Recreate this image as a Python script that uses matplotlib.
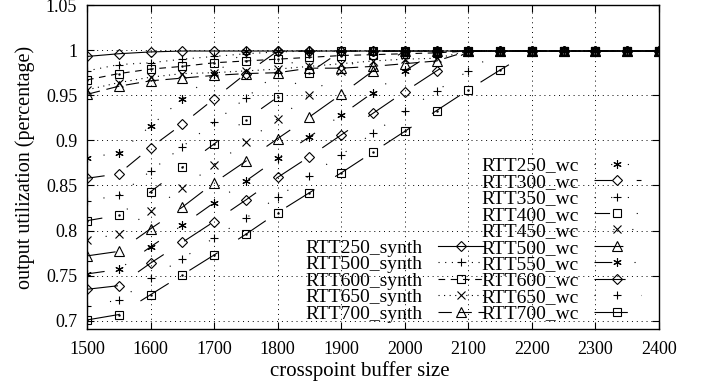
import matplotlib
matplotlib.use('Agg')
from matplotlib import pyplot as plt
from matplotlib.ticker import FuncFormatter

plt.rcParams['font.family'] = ['Liberation Serif', 'DejaVu Serif']
plt.rcParams['font.size'] = 13

buffer_size = [1500, 1550, 1600, 1650, 1700, 1750, 1800, 1850, 1900, 1950,
               2000, 2050, 2100, 2150, 2200, 2250, 2300, 2350, 2400]

# worst case series
rtt250_wc = [0.881, 0.886, 0.916, 0.946, 0.974, 0.999, 0.999, 0.999, 0.999, 0.999,
             0.999, 0.999, 0.999, 0.999, 0.999, 0.999, 0.999, 0.999, 0.999]
rtt300_wc = [0.858, 0.863, 0.892, 0.918, 0.946, 0.974, 0.999, 0.999, 0.999, 0.999,
             0.999, 0.999, 0.999, 0.999, 0.999, 0.999, 0.999, 0.999, 0.999]
rtt350_wc = [0.833, 0.839, 0.866, 0.893, 0.920, 0.947, 0.975, 0.999, 0.999, 0.999,
             0.999, 0.999, 0.999, 0.999, 0.999, 0.999, 0.999, 0.999, 0.999]
rtt400_wc = [0.811, 0.817, 0.843, 0.870, 0.896, 0.923, 0.948, 0.975, 0.999, 0.999,
             0.999, 0.999, 0.999, 0.999, 0.999, 0.999, 0.999, 0.999, 0.999]
rtt450_wc = [0.790, 0.796, 0.822, 0.847, 0.873, 0.898, 0.924, 0.950, 0.977, 0.999,
             0.999, 0.999, 0.999, 0.999, 0.999, 0.999, 0.999, 0.999, 0.999]
rtt500_wc = [0.772, 0.777, 0.802, 0.826, 0.853, 0.877, 0.902, 0.926, 0.951, 0.977,
             0.999, 0.999, 0.999, 0.999, 0.999, 0.999, 0.999, 0.999, 0.999]
rtt550_wc = [0.752, 0.757, 0.782, 0.806, 0.831, 0.855, 0.880, 0.904, 0.928, 0.953,
             0.977, 0.999, 0.999, 0.999, 0.999, 0.999, 0.999, 0.999, 0.999]
rtt600_wc = [0.735, 0.739, 0.764, 0.787, 0.810, 0.834, 0.859, 0.882, 0.906, 0.930,
             0.954, 0.977, 0.999, 0.999, 0.999, 0.999, 0.999, 0.999, 0.999]
rtt650_wc = [0.717, 0.723, 0.747, 0.769, 0.792, 0.814, 0.837, 0.861, 0.884, 0.908,
             0.932, 0.955, 0.977, 0.999, 0.999, 0.999, 0.999, 0.999, 0.999]
rtt700_wc = [0.701, 0.707, 0.729, 0.751, 0.773, 0.796, 0.820, 0.842, 0.864, 0.887,
             0.910, 0.933, 0.956, 0.978, 0.999, 0.999, 0.999, 0.999, 0.999]

# synthetic traffic series
rtt250_synth = [0.993, 0.996, 0.998, 0.999, 0.999, 0.999, 0.999, 0.999, 0.999, 0.999,
                0.999, 0.999, 0.999, 0.999, 0.999, 0.999, 0.999, 0.999, 0.999]
rtt500_synth = [0.977, 0.984, 0.986, 0.990, 0.993, 0.996, 0.998, 0.999, 0.999, 0.999,
                0.999, 0.999, 0.999, 0.999, 0.999, 0.999, 0.999, 0.999, 0.999]
rtt600_synth = [0.967, 0.974, 0.979, 0.982, 0.986, 0.988, 0.990, 0.992, 0.994, 0.995,
                0.996, 0.997, 0.999, 0.999, 0.999, 0.999, 0.999, 0.999, 0.999]
rtt650_synth = [0.956, 0.964, 0.970, 0.974, 0.975, 0.977, 0.979, 0.982, 0.985, 0.988,
                0.990, 0.991, 0.999, 0.999, 0.999, 0.999, 0.999, 0.999, 0.999]
rtt700_synth = [0.951, 0.960, 0.966, 0.969, 0.972, 0.974, 0.975, 0.980, 0.980, 0.982,
                0.985, 0.988, 0.999, 0.999, 0.999, 0.999, 0.999, 0.999, 0.999]

wc_labels = ['RTT250_wc', 'RTT300_wc', 'RTT350_wc', 'RTT400_wc', 'RTT450_wc',
             'RTT500_wc', 'RTT550_wc', 'RTT600_wc', 'RTT650_wc', 'RTT700_wc']
synth_labels = ['RTT250_synth', 'RTT500_synth', 'RTT600_synth', 'RTT650_synth', 'RTT700_synth']

asterisk = (6, 2, 0)
# gnuplot-like dash patterns (long periods, so most segments show only partly)
wc_styles = [
    (asterisk, (0, (1, 14))),
    ('D', (0, (16, 22))),
    ('+', (0, (1, 14))),
    ('s', (0, (14, 24, 1, 24))),
    ('x', (0, (1, 16))),
    ('^', (0, (26, 22))),
    (asterisk, (0, (16, 20, 1, 20))),
    ('D', (0, (28, 22))),
    ('+', (0, (1, 20))),
    ('s', (0, (30, 22))),
]
synth_styles = [
    ('D', '-'),
    ('+', (0, (1, 5))),
    ('s', (0, (6, 5))),
    ('x', (0, (1, 4))),
    ('^', (0, (12, 6))),
]

fig = plt.figure(figsize=(7.09, 3.85), dpi=100)
ax = fig.add_axes([0.1227, 0.1455, 0.8068, 0.8415])


def marker_size(m):
    if m == 'D':
        return 5.2
    if m == '^':
        return 7
    return 6


wc_series = [rtt250_wc, rtt300_wc, rtt350_wc, rtt400_wc, rtt450_wc,
             rtt500_wc, rtt550_wc, rtt600_wc, rtt650_wc, rtt700_wc]
synth_series = [rtt250_synth, rtt500_synth, rtt600_synth, rtt650_synth, rtt700_synth]


def draw(series, labels, styles):
    handles = []
    for vals, lab, (m, ls) in zip(series, labels, styles):
        h, = ax.plot(buffer_size, vals, color='black', lw=0.8, linestyle=ls, marker=m,
                     markersize=marker_size(m), markerfacecolor='none', markeredgewidth=0.8,
                     label=lab)
        if m == 's':
            ax.plot(buffer_size, vals, linestyle='none', marker='.', markersize=1.5, color='black')
        handles.append(h)
    return handles


wc_handles = draw(wc_series, wc_labels, wc_styles)
synth_handles = draw(synth_series, synth_labels, synth_styles)

ax.set_xlim(1500, 2400)
ax.set_ylim(0.691, 1.05)
ax.set_xticks(range(1500, 2401, 100))
ax.set_yticks([0.7, 0.75, 0.8, 0.85, 0.9, 0.95, 1.0, 1.05])
ax.yaxis.set_major_formatter(FuncFormatter(lambda v, p: '%g' % round(v, 2)))
ax.tick_params(direction='in', length=5, width=0.8, top=True, right=True, labelsize=13)
ax.tick_params(axis='x', pad=9)
ax.tick_params(axis='y', pad=7)
ax.grid(True, color='black', lw=0.7, linestyle=(0, (1, 4)))
for s in ax.spines.values():
    s.set_linewidth(1.0)

ax.set_xlabel('crosspoint buffer size', fontsize=15)
ax.xaxis.set_label_coords(0.477, -0.1)
ax.set_ylabel('output utilization (percentage)', fontsize=14.5, labelpad=8)

leg_kw = dict(frameon=False, markerfirst=False, handlelength=2.4, labelspacing=-0.06,
              borderpad=0.0, handletextpad=0.8, fontsize=14)
leg1 = ax.legend(handles=wc_handles, loc='lower right', bbox_to_anchor=(0.985, -0.01), **leg_kw)
ax.add_artist(leg1)
ax.legend(handles=synth_handles, loc='lower right', bbox_to_anchor=(0.712, -0.01), **leg_kw)

plt.savefig('out.png', dpi=100)
plt.close()
